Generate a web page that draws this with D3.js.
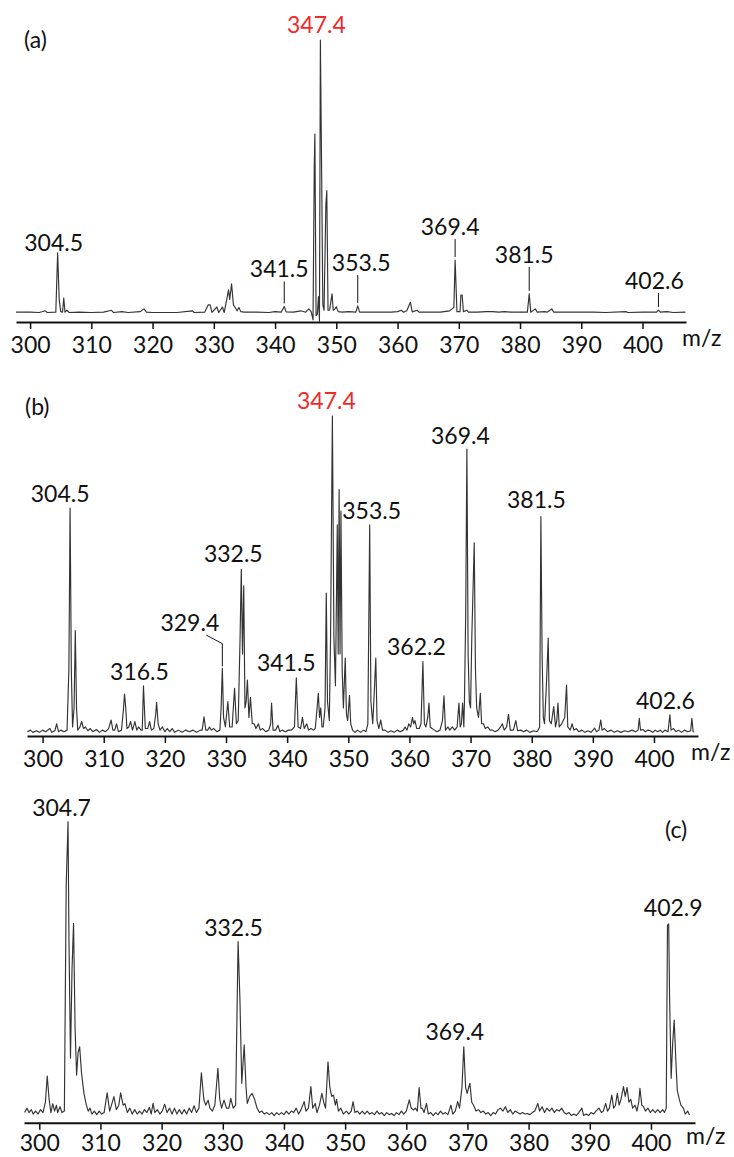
<!DOCTYPE html>
<html>
<head>
<meta charset="utf-8">
<script src="https://cdn.jsdelivr.net/npm/d3@7/dist/d3.min.js"></script>
<style>
  html, body { margin: 0; padding: 0; background: #fff; }
  svg { display: block; }
  text { font-family: Lato, "Open Sans", sans-serif; }
</style>
</head>
<body>
<svg id="chart" width="734" height="1157"></svg>
<script>
// ---------- Spectrum (a): m/z and relative intensity (%) of the trace vertices ----------
const specA_mz = [
  297.7, 300, 301.5, 302.5, 302.8, 304.2, 304.5, 304.75, 305.0, 305.3, 305.5, 305.7, 306.0, 306.4,
  308, 310, 312, 313.3, 313.6, 315, 316, 318, 318.6, 319, 320, 322, 324, 326.5, 326.8, 328.5,
  329.1, 329.4, 329.7, 330.5, 330.8, 331.4, 331.7, 332.2, 332.4, 332.6, 332.9, 333.2, 333.5, 333.8,
  334.1, 334.4, 335, 337, 339, 340, 341, 341.5, 341.8, 343, 344.2, 345, 345.5, 345.9, 346.2, 346.4,
  346.5, 346.7, 346.9, 347.1, 347.25, 347.4, 347.6, 347.8, 348.0, 348.3, 348.45, 348.65, 348.9, 349.3,
  349.5, 349.8, 350.0, 350.3, 351, 352, 353.2, 353.5, 353.8, 355, 357, 359, 360, 360.6, 361, 361.5,
  362.1, 362.4, 363.2, 363.5, 365, 367, 368.5, 368.9, 369.2, 369.4, 369.7, 370.2, 370.35, 370.55,
  370.75, 371.3, 371.6, 373, 374.5, 375.5, 376.5, 377.5, 378.5, 380, 381.2, 381.5, 381.75, 382.5,
  382.8, 384, 384.4, 385.2, 385.5, 386.5, 388, 390, 392, 394, 397.3, 397.6, 400, 402.3, 402.6,
  402.9, 404, 405, 407
];
const specA_int = [
  0.3, 0.3, 0.2, 0.8, 0.2, 0.3, 22, 5, 0.5, 0.3, 5.5, 0.3, 1.0, 0.2,
  0.3, 0.2, 0.3, 1.0, 0.2, 0.5, 0.2, 0.5, 1.5, 0.3, 0.2, 0.2, 0.2, 0.8, 0.2, 0.3,
  3, 3, 0.2, 2.2, 0.2, 2.2, 0.2, 6, 8.5, 5, 10.7, 3, 2, 0.8,
  2, 0.5, 0.3, 0.3, 0.2, 0.5, 0.3, 2.4, 0.4, 0.3, 0.8, 0.3, 1.5, 0.5, -2.5, 53,
  65.5, -1, -0.5, 6, -3, 100, 53, 3, 1, 40, 44.8, 1, 1, 7,
  1, 1.5, 2.3, 0.5, 0.3, 0.5, 0.3, 2.6, 0.3, 0.3, 0.3, 0.3, 0.5, 1, 0.3, 0.8,
  3.9, 0.4, 1, 0.3, 0.3, 0.3, 0.8, 1.5, 2, 19.4, 0.5, 0.5, 6.6, 6.6,
  0.5, 1, 0.3, 0.3, 0.5, 0.5, 0.3, 0.5, 0.3, 0.3, 0.3, 7, 0.3, 1.5,
  0.3, 0.5, 0.3, 1.5, 0.3, 0.3, 0.3, 0.3, 0.3, 0.2, 0.5, 0.2, 0.3, 0.3, 1.1,
  0.3, 0.5, 0.2, 0.3
];
const labelsA_mz   = [304.5, 341.5, 347.4, 353.5, 369.4, 381.5, 402.6];
const labelsA_int  = [22, 2.4, 100, 2.6, 19.4, 7, 1.1];

// ---------- Spectrum (b) ----------
const specB_mz = [
  297.5, 298, 298.4, 299, 299.5, 300, 300.5, 301.2, 301.5, 302.0, 302.3, 302.6, 303, 303.5, 304.0,
  304.3, 304.5, 304.7, 304.9, 305.15, 305.35, 305.55, 305.75, 306.1, 306.4, 306.7, 307, 307.4, 307.8,
  308.2, 308.8, 309.3, 309.8, 310.3, 310.8, 311.2, 311.5, 311.8, 312.1, 312.4, 312.9, 313.2, 313.4,
  313.6, 313.8, 314.1, 314.4, 314.7, 315.1, 315.4, 315.7, 316.1, 316.3, 316.5, 316.8, 317.2, 317.5,
  317.8, 318.2, 318.5, 318.65, 318.9, 319.2, 319.6, 320, 320.4, 320.8, 321.2, 321.6, 322.2, 322.8,
  323.4, 324, 324.6, 325.2, 325.8, 326.1, 326.4, 326.7, 327.0, 327.3, 327.6, 328, 328.5, 329.0,
  329.2, 329.4, 329.6, 329.9, 330.3, 330.6, 331.0, 331.4, 331.7, 332.0, 332.3, 332.5, 332.7, 332.9,
  333.1, 333.3, 333.5, 333.75, 334.0, 334.3, 334.6, 334.9, 335.3, 335.6, 336, 336.5, 337, 337.3,
  337.45, 337.7, 338.1, 338.5, 338.8, 339.2, 339.7, 340.2, 340.7, 341.2, 341.5, 341.8, 342.2, 342.5,
  342.8, 343.2, 343.5, 343.9, 344.3, 344.6, 344.9, 345.1, 345.3, 345.5, 345.7, 345.9, 346.2, 346.4,
  346.6, 346.9, 347.1, 347.4, 347.65, 347.9, 348.2, 348.35, 348.5, 348.65, 348.8, 349.0, 349.2, 349.5,
  349.7, 349.9, 350.2, 350.4, 350.7, 351.1, 351.5, 352, 352.5, 352.9, 353.2, 353.5, 353.7, 354.0,
  354.3, 354.5, 354.7, 355.0, 355.3, 355.6, 356, 356.5, 357, 357.5, 358, 358.5, 359, 359.3, 359.6,
  359.9, 360.2, 360.5, 360.7, 360.9, 361.2, 361.6, 361.9, 362.2, 362.45, 362.7, 363.0, 363.2, 363.4,
  363.7, 364.1, 364.5, 365.0, 365.4, 365.65, 365.9, 366.3, 366.6, 367.0, 367.4, 367.8, 368.1, 368.3,
  368.5, 368.7, 368.9, 369.0, 369.2, 369.4, 369.6, 369.8, 370.0, 370.2, 370.6, 370.8, 371.0, 371.3,
  371.6, 371.8, 372.1, 372.4, 372.8, 373.2, 373.6, 374, 374.5, 374.9, 375.2, 375.5, 375.9, 376.2,
  376.5, 377.0, 377.4, 377.7, 378.2, 378.7, 379.2, 379.7, 380.3, 380.9, 381.3, 381.5, 381.7, 381.9,
  382.1, 382.4, 382.7, 382.9, 383.2, 383.6, 383.9, 384.1, 384.3, 384.5, 384.9, 385.4, 385.7, 385.9,
  386.3, 386.6, 386.9, 387.3, 387.7, 388.2, 388.7, 389.2, 389.7, 390.3, 390.6, 391.0, 391.3, 391.5,
  391.9, 392.4, 393, 393.5, 394, 394.6, 395.2, 395.8, 396.4, 397, 397.4, 397.6, 397.8, 398.2, 398.6,
  399, 399.4, 399.8, 400.2, 400.6, 401, 401.4, 401.8, 402.3, 402.6, 402.8, 403.2, 403.6, 404, 404.5,
  405, 405.5, 406, 406.2, 406.4, 406.6
];
const specB_int = [
  0.5, 1, 0.3, 0.8, 0.3, 1, 0.5, 1.5, 0.3, 0.8, 3, 0.5, 1, 0.5, 1,
  20, 71, 20, 2, 8, 32.4, 8, 1, 2, 3.7, 1.5, 2, 0.8, 1.5,
  0.5, 1.2, 0.3, 1, 0.5, 1.5, 4.2, 1, 1, 3, 0.5, 1, 7, 12.4,
  8, 1.5, 2, 3.7, 1, 3.7, 1, 2, 1, 1, 15, 1.5, 1.5, 3.7,
  1, 1.5, 6, 9.8, 3, 1, 2, 0.5, 1.5, 0.5, 1.5, 0.3, 1, 0.3,
  1, 0.5, 1, 0.3, 1, 1, 5.2, 1, 1, 2, 1, 1.5, 0.5, 1,
  8, 20.5, 5, 2, 10, 2, 2, 14.2, 3, 4, 30, 51.7, 25, 46.5,
  8, 10, 16.8, 5, 11.3, 3, 3, 1.5, 3, 1, 1.5, 0.5, 1, 3,
  9.5, 1, 1, 2.5, 0.5, 1, 0.5, 1, 1, 2, 17.5, 2, 1.5, 5,
  1.5, 3, 1, 1.5, 1, 1.5, 8, 12.6, 5, 8, 2, 2, 8, 44.2,
  10, 4, 30, 100, 30, 15, 65.7, 25, 76.8, 25, 70, 20, 8, 23.7,
  6, 4, 12, 3, 1, 0.3, 1, 0.3, 1, 0.5, 3, 65.7, 10, 3,
  15, 23.7, 4, 1.5, 4.2, 1, 1, 0.3, 0.8, 0.3, 1, 0.5, 1, 2, 1,
  3, 2, 5, 3, 4, 1.5, 1.5, 3, 22.6, 3, 2, 5, 9.5, 2,
  1.5, 1, 0.5, 1, 4, 11.8, 1, 2, 1, 2, 1, 2, 9.5, 2,
  3, 9.5, 2, 10, 36.8, 89.6, 25, 10, 8, 30, 60, 20, 8, 5,
  12.6, 3, 3, 1.5, 2, 1, 1, 0.5, 1, 2, 3, 1, 2, 6,
  1, 1, 4, 0.8, 1, 0.5, 1, 0.3, 0.8, 0.5, 2, 68.3, 25, 5,
  3, 15, 30, 4, 3, 8.4, 2, 4, 9.5, 2, 3, 5, 15.2, 2,
  1, 3, 1, 1.5, 0.5, 1, 0.3, 0.8, 0.3, 1.6, 0.5, 1, 4.2, 1,
  1.5, 0.5, 1, 0.3, 0.8, 0.3, 0.8, 0.5, 1, 0.5, 1, 4.7, 1, 1.2, 0.5,
  1, 0.8, 0.3, 1, 0.5, 1, 0.3, 1, 0.5, 5.8, 1, 1.5, 0.5, 1, 0.3,
  1, 0.5, 0.8, 4.7, 0.5, 0.5
];
const labelsB_mz  = [304.5, 316.5, 329.4, 332.5, 341.5, 347.4, 353.5, 362.2, 369.4, 381.5, 402.6];
const labelsB_int = [71, 15, 20.5, 51.7, 17.5, 100, 65.7, 22.6, 89.6, 68.3, 5.8];

// ---------- Spectrum (c) ----------
const specC_mz = [
  297.6, 298.0, 298.3, 298.7, 299.0, 299.4, 299.8, 300.2, 300.6, 301.0, 301.3, 301.6, 301.9, 302.2,
  302.5, 302.8, 303.0, 303.4, 303.7, 304.1, 304.4, 304.7, 304.85, 305.1, 305.35, 305.6, 305.85, 306.1,
  306.35, 306.6, 306.9, 307.3, 307.7, 308.0, 308.3, 308.6, 309.0, 309.4, 309.8, 310.2, 310.6, 311.1,
  311.5, 311.8, 312.2, 312.6, 313.0, 313.3, 313.7, 314.0, 314.4, 314.8, 315.2, 315.6, 316, 316.4,
  316.8, 317.2, 317.6, 318.0, 318.3, 318.6, 318.9, 319.3, 319.7, 320.1, 320.5, 320.9, 321.3, 321.7,
  322.1, 322.5, 322.9, 323.3, 323.7, 324.1, 324.5, 324.9, 325.3, 325.7, 326.1, 326.5, 326.9, 327.2,
  327.6, 327.9, 328.3, 328.7, 329.2, 329.5, 329.8, 330.2, 330.6, 331.0, 331.3, 331.7, 332.1, 332.5,
  332.8, 333.1, 333.5, 333.8, 334.0, 334.4, 334.8, 335.2, 335.6, 336, 336.4, 336.8, 337.2, 337.6,
  338, 338.4, 338.8, 339.2, 339.6, 340, 340.4, 340.8, 341.2, 341.6, 342.0, 342.4, 342.8, 343.3,
  343.6, 344.0, 344.4, 344.7, 345.1, 345.4, 345.8, 346.2, 346.5, 346.8, 347.2, 347.5, 347.8, 348.1,
  348.4, 348.6, 348.9, 349.3, 349.7, 350.2, 350.6, 351.0, 351.3, 351.6, 352, 352.4, 352.8, 353.2,
  353.6, 354, 354.4, 354.8, 355.2, 355.6, 356, 356.4, 356.8, 357.2, 357.6, 358, 358.4, 358.8, 359.2,
  359.6, 360.0, 360.5, 360.8, 361.2, 361.5, 361.8, 362.1, 362.4, 362.6, 362.9, 363.3, 363.6, 364.0,
  364.4, 364.8, 365.2, 365.6, 366.0, 366.4, 366.8, 367.3, 367.6, 368.0, 368.4, 368.7, 369.1, 369.4,
  369.7, 369.95, 370.2, 370.4, 370.7, 371.0, 371.4, 371.8, 372.2, 372.6, 373.0, 373.4, 373.8, 374.2,
  374.6, 375.0, 375.4, 375.8, 376.2, 376.6, 377.0, 377.4, 377.8, 378.2, 378.6, 379.0, 379.4, 379.8,
  380.2, 380.6, 381.0, 381.5, 381.8, 382.2, 382.6, 383.0, 383.4, 383.8, 384.2, 384.6, 385.0, 385.4,
  385.8, 386.2, 386.6, 387, 387.4, 387.8, 388.2, 388.7, 389.0, 389.4, 389.8, 390.2, 390.6, 391.0,
  391.5, 391.9, 392.2, 392.6, 392.9, 393.2, 393.6, 393.9, 394.2, 394.5, 394.8, 395.1, 395.5, 395.8,
  396.1, 396.4, 396.7, 397.0, 397.4, 397.7, 398.0, 398.2, 398.5, 398.8, 399.1, 399.5, 399.9, 400.3,
  400.7, 401.1, 401.5, 401.9, 402.2, 402.5, 402.7, 402.9, 403.05, 403.3, 403.55, 403.8, 404.05, 404.3,
  404.6, 404.9, 405.3, 405.6, 406.0, 406.3
];
const specC_int = [
  1.5, 3, 1.5, 2.5, 1, 2, 1, 2.5, 1.5, 5, 13.9, 6, 1.5, 4.5,
  2, 4, 1.5, 3.5, 1.5, 2, 78.6, 100, 60, 20, 50, 65.6, 30, 14.2,
  22, 23.8, 15, 8, 4, 2, 3, 1, 2, 0.8, 2, 1, 1.5, 8.2,
  2, 4, 6.9, 2.5, 4, 8.2, 4, 4.5, 1.5, 3, 1, 2.5, 1, 2,
  1, 2.5, 1.5, 3.3, 1, 4.6, 1.5, 2.5, 1, 2, 4.3, 1.5, 3, 1,
  3, 1, 2.5, 1, 2.5, 1, 3, 1.5, 3.8, 1.5, 3, 15, 6, 4,
  5.7, 3, 2, 4, 16.5, 6, 3, 5.7, 3, 3, 6.3, 3, 4, 59.4,
  40, 11.4, 24.4, 10, 4.6, 7, 8, 6, 3, 1.5, 2, 1, 1.5, 0.8,
  1.5, 0.5, 1.5, 0.8, 1.5, 0.8, 2, 1, 2, 1.5, 3, 1, 2.5, 5.2,
  2, 3, 10.3, 3, 4.6, 1.5, 4, 8, 5, 3, 18.7, 10, 7, 7.4,
  4, 6, 2, 3, 1, 2, 1, 2, 5.2, 1.5, 2, 1, 2, 1,
  2, 1, 1.5, 0.8, 2, 1, 1.5, 0.5, 1.5, 0.8, 1.2, 0.5, 1.5, 0.8, 2,
  1, 2, 5.8, 3, 2.4, 3, 2, 10, 3, 3, 1.5, 4.6, 1, 1.5,
  0.5, 1.5, 0.8, 2, 1, 1.5, 0.8, 4, 1, 2, 5.2, 3, 10, 23.8,
  10, 8, 10, 11.4, 5, 4, 2, 2.5, 1.5, 2, 1, 1.5, 0.5, 1.5,
  1, 2.5, 3, 2, 3.5, 1.5, 2.5, 1, 2, 1.5, 1, 1.5, 1, 1.2,
  0.8, 1.5, 2, 4.6, 2, 3.5, 1.5, 3, 2, 3, 1.5, 2.5, 2, 3,
  1.5, 1, 1.5, 0.5, 1, 0.5, 1.5, 3, 0.5, 1, 0.5, 1.5, 1, 2,
  3, 1.5, 2, 4.6, 2, 3, 7.4, 3, 4, 8, 4, 6, 10.3, 7,
  10, 5, 6, 3, 4, 2, 5, 9.7, 4, 3.5, 2, 3, 1.5, 2.5,
  1.5, 2.5, 1.5, 2.5, 1.5, 3, 65, 65.4, 40, 13.1, 25, 32.8, 20, 9,
  6.3, 4, 3, 1, 2, 0.7
];
const labelsC_mz  = [304.7, 332.5, 369.4, 402.9];
const labelsC_int = [100, 59.4, 23.8, 65.4];

// Axis ticks shared by all three panels
const tickValues = [300, 310, 320, 330, 340, 350, 360, 370, 380, 390, 400];
const axisTitle = "m/z";

// ---------- drawing ----------
const svg = d3.select("#chart");
const FONT = 23;
const INK = "#111";
const TRACE = "#333";
const HIGHLIGHT = "#ee2a2a";

function fmt(v) { return v.toFixed(1); }

function drawPanel(cfg) {
  const x = d3.scaleLinear().domain(cfg.mzExtent).range(cfg.xRange);
  const y = d3.scaleLinear().domain([0, 100]).range([cfg.yBase, cfg.yTop]);
  const g = svg.append("g");

  // spectrum trace
  const pts = cfg.mz.map((m, i) => [m, cfg.int[i]]);
  g.append("path")
    .datum(pts)
    .attr("fill", "none")
    .attr("stroke", TRACE)
    .attr("stroke-width", 1.15)
    .attr("stroke-linejoin", "round")
    .attr("d", d3.line().x(d => x(d[0])).y(d => y(d[1])));

  // x axis
  const ax = g.append("g")
    .attr("transform", `translate(0,${cfg.axisY})`)
    .call(d3.axisBottom(x).tickValues(tickValues).tickFormat(d3.format("d"))
      .tickSizeInner(7).tickSizeOuter(0).tickPadding(cfg.tickPad));
  ax.select(".domain").attr("stroke", INK).attr("stroke-width", 2);
  ax.selectAll(".tick line").attr("stroke", INK).attr("stroke-width", 1.5);
  ax.selectAll(".tick text")
    .attr("fill", INK)
    .style("font-family", "Lato, 'Open Sans', sans-serif")
    .style("font-size", FONT + "px");

  g.append("text")
    .attr("x", cfg.titleX)
    .attr("y", cfg.axisY + cfg.titleDy)
    .attr("fill", INK)
    .style("font-size", FONT + "px")
    .text(axisTitle);

  // panel tag
  g.append("text")
    .attr("x", cfg.tag[1])
    .attr("y", cfg.tag[2])
    .attr("fill", INK)
    .style("font-size", FONT + "px")
    .text(cfg.tag[0]);

  // peak annotations
  cfg.labelMz.forEach((m, i) => {
    const lay = cfg.layout[i];           // [dx, lift, leaderKind]
    const px = x(m), py = y(cfg.labelInt[i]);
    const ty = py - lay[1];
    g.append("text")
      .attr("x", px + lay[0])
      .attr("y", ty)
      .attr("text-anchor", "middle")
      .attr("fill", m === cfg.highlight ? HIGHLIGHT : INK)
      .style("font-size", FONT + "px")
      .text(fmt(m));
    if (lay[2] === "line") {
      g.append("line")
        .attr("x1", px).attr("x2", px)
        .attr("y1", py - 3).attr("y2", ty + 4)
        .attr("stroke", INK).attr("stroke-width", 1);
    } else if (lay[2] === "elbow") {
      g.append("path")
        .attr("fill", "none")
        .attr("stroke", INK).attr("stroke-width", 1)
        .attr("d", `M${px},${py - 2}V${ty + 13}L${px - 16},${ty + 4.5}`);
    }
  });
}

drawPanel({
  mz: specA_mz, int: specA_int,
  mzExtent: [297.7, 407.1], xRange: [16, 686],
  yBase: 313, yTop: 40, axisY: 322, tickPad: 8, titleX: 682, titleDy: 24,
  tag: ["(a)", 24, 48],
  labelMz: labelsA_mz, labelInt: labelsA_int, highlight: 347.4,
  layout: [[-4, 2, ""], [-5, 29, "line"], [-4, 7.5, ""], [3.5, 35, "line"],
           [-5, 25, "line"], [-5, 31, "line"], [-4, 21, "line"]]
});

drawPanel({
  mz: specB_mz, int: specB_int,
  mzExtent: [297.45, 407.2], xRange: [27, 698],
  yBase: 733.3, yTop: 416, axisY: 736, tickPad: 8, titleX: 691, titleDy: 24,
  tag: ["(b)", 25, 415],
  labelMz: labelsB_mz, labelInt: labelsB_int, highlight: 347.4,
  layout: [[-10, 6, ""], [-4, 6, ""], [-32.5, 37.6, "elbow"], [-8, 7, ""], [-10, 7, ""],
           [-6, 7, ""], [2, 5.7, ""], [-6.5, 6.7, ""], [-6.5, 5.3, ""], [-4.5, 8.5, ""],
           [-4.5, 6, ""]]
});

drawPanel({
  mz: specC_mz, int: specC_int,
  mzExtent: [297.5, 407.2], xRange: [24, 695],
  yBase: 1117, yTop: 821.7, axisY: 1122.7, tickPad: 4.5, titleX: 686, titleDy: 21,
  tag: ["(c)", 665, 838],
  labelMz: labelsC_mz, labelInt: labelsC_int, highlight: null,
  layout: [[-6.5, 5.7, ""], [-4.5, 6, ""], [-9, 6.7, ""], [4.5, 8, ""]]
});
</script>
</body>
</html>
